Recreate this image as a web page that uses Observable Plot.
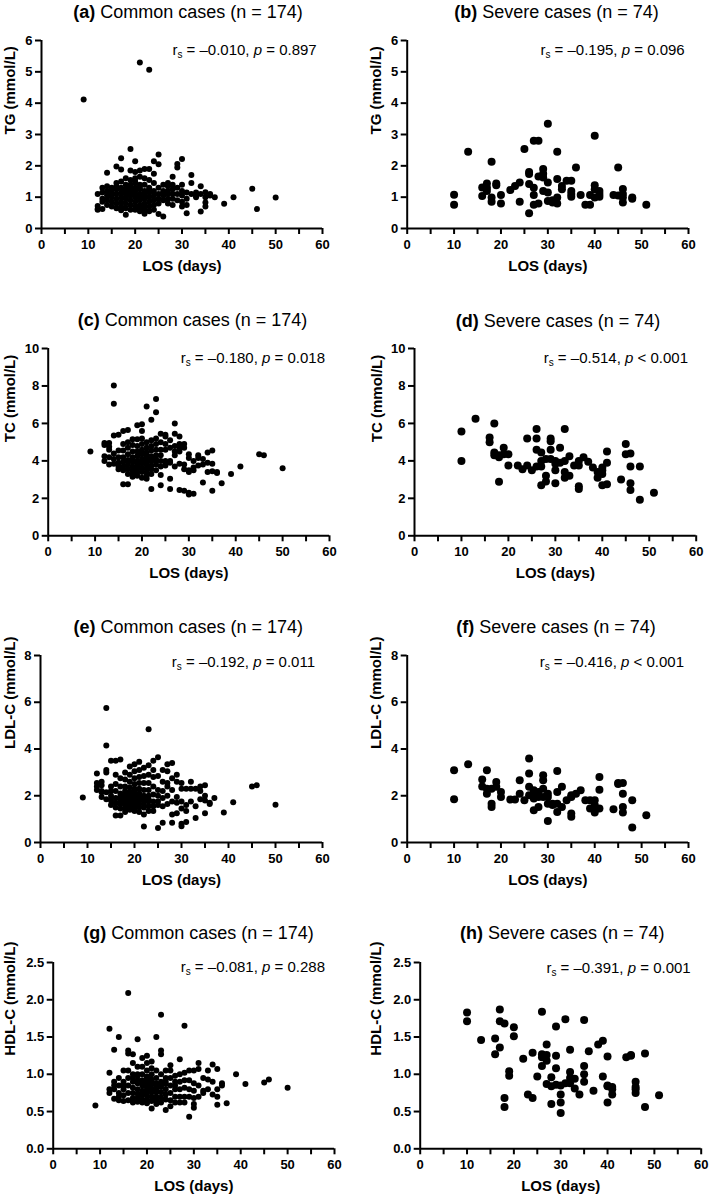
<!DOCTYPE html>
<html><head><meta charset="utf-8">
<script src="https://cdn.jsdelivr.net/npm/d3@7"></script>
<script src="https://cdn.jsdelivr.net/npm/@observablehq/plot@0.6"></script>
<style>
body{margin:0;background:#fff;}
#root{position:relative;width:709px;height:1202px;font-family:"Liberation Sans",Arial,Helvetica,sans-serif;color:#000;overflow:hidden;}
.title{position:absolute;font-size:18px;white-space:nowrap;transform:translate(-50%,-50%);line-height:1;}
.title b{font-weight:bold;}
.ann{position:absolute;font-size:15px;white-space:nowrap;transform:translate(-100%,-50%);line-height:1;}
.ann sub{font-size:10px;vertical-align:-3px;line-height:0;}
.panel{position:absolute;}
.panel svg{overflow:visible;}
.panel svg g[aria-label="x-axis tick label"], .panel svg g[aria-label="y-axis tick label"],
.panel svg g[aria-label="x-axis tick label"] text, .panel svg g[aria-label="y-axis tick label"] text{
  font-size:13px !important; font-weight:bold !important; fill:#000 !important;}
.panel svg g[aria-label="x-axis tick"], .panel svg g[aria-label="y-axis tick"]{
  stroke-width:2px !important; stroke:#000 !important;}
</style></head><body><div id="root"></div>
<script>
// ---------- data: [LOS (days), [values...]] ----------
const commonTG = [
 [9,[4.12]],
 [12,[1.10,0.72,0.62,0.60]],
 [13,[1.30,1.15,0.95,0.85,0.62]],
 [14,[1.78,1.35,1.20,1.05,0.90,0.75]],
 [15,[1.30,1.20,1.10,1.00,0.85,0.70]],
 [16,[1.98,1.45,1.35,1.25,1.10,0.95,0.80,0.65]],
 [17,[2.24,1.88,1.50,1.30,1.15,1.00,0.85,0.70,0.58]],
 [18,[1.60,1.40,1.25,1.20,1.10,1.00,0.95,0.80,0.65,0.44]],
 [19,[2.54,1.85,1.55,1.40,1.30,1.20,1.15,1.05,0.90,0.75,0.60]],
 [20,[2.15,1.80,1.60,1.50,1.45,1.30,1.20,1.10,1.00,0.85,0.70,0.60]],
 [21,[5.30,1.85,1.65,1.40,1.30,1.25,1.10,1.00,0.90,0.75,0.65,0.55]],
 [22,[1.90,1.60,1.40,1.20,1.10,1.05,0.95,0.80,0.70,0.60,0.47]],
 [23,[5.07,1.90,1.55,1.30,1.25,1.15,1.00,0.85,0.70,0.55]],
 [24,[2.15,1.75,1.45,1.20,1.05,0.90,0.75,0.60]],
 [25,[2.36,2.05,1.30,1.10,0.95,0.80,0.46]],
 [26,[1.40,1.20,1.15,1.05,0.90,0.38]],
 [27,[1.45,1.35,1.20,1.10,0.95,0.80]],
 [28,[1.65,1.40,1.25,1.10,0.95,0.75]],
 [29,[2.06,1.95,1.30,1.10,0.90]],
 [30,[2.22,1.40,1.20,1.05,0.85,0.70]],
 [31,[1.15,0.95,0.75,0.49]],
 [32,[1.71,1.45,1.10]],
 [33,[1.15,1.05,1.00]],
 [34,[1.35,1.10,0.54]],
 [35,[1.16,1.00,0.83,0.70]],
 [36,[1.10,1.05]],
 [37,[1.00]],[39,[0.79]],[41,[1.00]],[45,[1.27]],[46,[0.62]],[50,[0.99]]
];
const severeTG = [
 [10,[1.08,0.76]],[13,[2.45]],[16,[1.31,1.04]],[17,[1.44,1.30,1.20]],[18,[2.13,0.99,0.85]],
 [19,[1.44,1.38]],[20,[1.07,0.80]],[22,[1.23]],[23,[1.36]],[24,[1.47,0.85]],[25,[2.54]],
 [26,[1.80,1.74,1.42,0.49]],[27,[2.80,1.30,1.07,0.76]],[28,[2.80,1.66,0.80]],
 [29,[1.90,1.75,1.63,1.20]],[30,[3.34,1.47,1.15,0.88]],[31,[0.90,0.83]],
 [32,[2.45,1.58,0.99,0.80]],[33,[1.36,1.25]],[34,[1.52]],[35,[1.52,1.20,1.10,1.01]],
 [36,[1.95]],[37,[1.07]],[38,[0.76]],[39,[1.07,0.76]],[40,[2.96,1.38,1.25,0.99]],
 [41,[1.20,1.10,1.01]],[44,[1.07]],[45,[1.95,1.05]],[46,[1.26,1.10,0.99,0.83]],
 [48,[0.99,0.95]],[51,[0.76]]
];
const commonTC = [
 [9,[4.50]],
 [12,[4.95,4.85,4.25,4.00]],
 [13,[4.95,4.75,4.60,4.20,3.80]],
 [14,[8.02,7.05,5.35,4.40,4.10,3.85]],
 [15,[5.40,4.55,4.20,3.90,3.70,3.55]],
 [16,[5.60,4.90,4.55,4.20,3.95,3.70,3.50,2.75]],
 [17,[5.65,5.00,4.70,4.35,4.05,3.80,3.55,3.30,2.75]],
 [18,[5.15,4.85,4.50,4.20,4.00,3.95,3.70,3.50,3.30,3.15]],
 [19,[5.90,5.15,4.80,4.50,4.25,4.00,3.80,3.60,3.60,3.40,3.20]],
 [20,[5.95,5.60,5.20,4.90,4.60,4.45,4.35,4.10,3.90,3.65,3.40,3.10]],
 [21,[6.90,5.00,4.70,4.45,4.30,4.20,4.00,3.80,3.60,3.40,3.20,3.05]],
 [22,[6.20,5.10,4.80,4.55,4.25,4.10,4.00,3.75,3.55,3.30,2.50]],
 [23,[7.30,6.60,5.20,4.90,4.60,4.30,4.10,4.00,3.80,3.50]],
 [24,[5.45,5.00,4.60,4.30,4.00,3.70,3.25,2.70]],
 [25,[5.40,5.30,4.90,4.60,4.00,3.90,3.75]],
 [26,[5.10,4.70,4.00,3.90,3.05,2.50]],
 [27,[6.00,5.45,4.80,4.50,4.30,3.70]],
 [28,[5.30,4.90,4.70,4.50,3.85,2.45]],
 [29,[4.90,4.70,3.80,3.55,2.40]],
 [30,[4.35,4.15,3.50,3.40,2.30,2.20]],
 [31,[4.00,3.65,3.50,2.25]],
 [32,[4.30,4.15,3.75]],
 [33,[4.10,3.80,2.85]],
 [34,[4.45,3.90,3.40]],
 [35,[4.55,3.85,3.45,2.40]],
 [36,[3.40,3.35]],
 [37,[2.80]],[39,[3.30]],[41,[3.70]],[45,[4.35]],[46,[4.30]],[50,[3.60]]
];
const severeTC = [
 [10,[5.57,4.00]],[13,[6.25]],[16,[5.25,5.00]],[17,[6.00,4.45,4.30]],[18,[4.30,4.20,2.88]],
 [19,[4.70,4.35]],[20,[4.35,3.75]],[22,[3.75]],[23,[3.55]],[24,[5.20,3.75]],[25,[3.50]],
 [26,[5.70,5.20,4.60,3.70]],[27,[4.45,4.00,3.70,2.70]],[28,[4.10,3.20,2.90]],
 [29,[5.20,5.05,4.60,4.10]],[30,[4.00,3.85,3.50,2.80]],[31,[4.70,3.90]],
 [32,[5.70,4.00,3.40,3.10]],[33,[4.25,3.20]],[34,[3.75]],[35,[4.00,3.75,2.65,2.50]],
 [36,[4.20]],[37,[3.95]],[38,[3.65]],[39,[3.40,3.10]],[40,[3.65,3.50,3.30,2.70]],
 [41,[4.50,3.90,2.75]],[44,[3.00]],[45,[4.90,4.35]],[46,[4.40,3.70,2.80,2.45]],
 [48,[3.70,1.92]],[51,[2.30]]
];
const commonLDL = [
 [9,[1.92]],
 [12,[2.95,2.55,2.40,2.25]],
 [13,[2.60,2.45,2.20,2.15,1.95]],
 [14,[5.75,4.15,3.10,3.00,2.15,1.85]],
 [15,[3.50,2.40,2.20,2.00,1.80,1.60]],
 [16,[3.50,2.90,2.50,2.20,1.90,1.70,1.50,1.15]],
 [17,[3.55,2.75,2.40,2.10,1.95,1.80,1.65,1.45,1.15]],
 [18,[3.00,2.70,2.40,2.20,2.05,1.90,1.75,1.60,1.45,1.30]],
 [19,[3.25,2.90,2.60,2.35,2.15,2.10,2.00,1.85,1.70,1.55,1.40]],
 [20,[3.35,3.05,2.75,2.50,2.30,2.20,2.10,1.95,1.80,1.65,1.50,1.35]],
 [21,[3.45,3.10,2.80,2.55,2.30,2.10,2.00,1.95,1.80,1.65,1.50,1.30]],
 [22,[3.20,2.85,2.55,2.25,2.00,1.90,1.80,1.65,1.50,1.20,0.68]],
 [23,[4.85,3.30,2.90,2.55,2.25,2.00,1.85,1.75,1.55,1.35]],
 [24,[3.50,3.10,2.80,2.40,2.05,1.75,1.55,1.35]],
 [25,[3.65,2.85,2.25,2.00,1.75,1.60,0.62]],
 [26,[3.10,2.60,2.20,1.90,1.55,0.85]],
 [27,[3.35,3.05,2.55,2.40,2.00,1.65]],
 [28,[3.40,2.75,2.25,1.75,1.20,0.85]],
 [29,[2.90,2.60,1.95,1.70,1.25]],
 [30,[2.55,2.30,1.75,1.45,0.80,0.70]],
 [31,[2.30,1.60,1.35,0.88]],
 [32,[2.60,2.30,1.75]],
 [33,[2.30,1.55,1.05]],
 [34,[2.40,2.20,1.85]],
 [35,[2.45,2.00,1.80,1.25]],
 [36,[1.70,1.65]],
 [37,[1.90]],[39,[1.28]],[41,[1.72]],[45,[2.40]],[46,[2.45]],[50,[1.62]]
];
const severeLDL = [
 [10,[3.09,1.85]],[13,[3.35]],[16,[2.69,2.40]],[17,[3.09,2.30,2.09]],[18,[2.30,1.66,1.52]],
 [19,[2.59,2.38]],[20,[2.16,1.95]],[22,[1.84]],[23,[1.84]],[24,[2.66,2.09]],[25,[1.81]],
 [26,[3.59,2.95,2.38,2.02]],[27,[2.23,2.05,1.88,1.38]],[28,[2.16,1.95,1.52]],
 [29,[2.88,2.66,2.30,1.95]],[30,[2.09,1.95,1.66,0.92]],[31,[1.66,1.60]],
 [32,[3.06,2.16,1.66,1.31]],[33,[2.38,1.52]],[34,[1.81]],[35,[2.02,1.95,1.24,1.10]],
 [36,[2.09]],[37,[2.23]],[38,[1.81]],[39,[1.81,1.45]],[40,[1.81,1.60,1.45,1.28]],
 [41,[2.80,2.26,1.45]],[44,[1.42]],[45,[2.55,2.50]],[46,[2.55,2.09,1.52,1.28]],
 [48,[1.81,0.64]],[51,[1.17]]
];
const commonHDL = [
 [9,[0.58]],
 [12,[1.61,1.02,0.80,0.75]],
 [13,[1.33,0.90,0.85,0.80,0.67]],
 [14,[1.50,0.95,0.85,0.75,0.70,0.65]],
 [15,[1.05,0.90,0.85,0.80,0.72,0.64]],
 [16,[2.09,1.32,1.28,1.05,0.95,0.85,0.75,0.65]],
 [17,[1.27,1.15,1.00,0.95,0.90,0.82,0.75,0.68,0.62]],
 [18,[1.47,1.10,1.00,0.98,0.92,0.88,0.80,0.74,0.68,0.63]],
 [19,[1.22,1.10,1.00,0.92,0.88,0.85,0.78,0.75,0.72,0.66,0.62]],
 [20,[1.25,1.15,1.05,0.97,0.95,0.90,0.84,0.82,0.78,0.72,0.66,0.61]],
 [21,[1.17,1.08,1.00,0.93,0.90,0.87,0.81,0.78,0.76,0.70,0.64,0.54]],
 [22,[1.50,1.05,0.95,0.88,0.86,0.82,0.80,0.76,0.70,0.65,0.60]],
 [23,[1.80,1.32,1.27,1.00,0.90,0.86,0.83,0.76,0.69,0.62]],
 [24,[1.05,0.95,0.90,0.87,0.80,0.73,0.66,0.52]],
 [25,[1.12,1.05,0.95,0.85,0.75,0.65,0.57]],
 [26,[0.98,0.90,0.85,0.80,0.70,0.62]],
 [27,[1.20,1.00,0.90,0.80,0.70,0.62]],
 [28,[1.65,1.02,0.92,0.82,0.70,0.62]],
 [29,[1.05,0.92,0.80,0.70,0.43]],
 [30,[1.05,0.88,0.78,0.68,0.60,0.55]],
 [31,[1.15,1.07,0.85,0.70]],
 [32,[0.95,0.78,0.75]],
 [33,[1.05,0.93,0.80]],
 [34,[1.13,0.90,0.73]],
 [35,[1.07,0.80,0.70,0.59]],
 [36,[0.88,0.85]],
 [37,[0.61]],[39,[1.00]],[41,[0.87]],[45,[0.89]],[46,[0.93]],[50,[0.82]]
];
const severeHDL = [
 [10,[1.83,1.71]],[13,[1.46]],[16,[1.48,1.27]],[17,[1.87,1.71,1.36]],[18,[1.68,0.68,0.56]],
 [19,[1.04,0.98]],[20,[1.63,1.51]],[22,[1.21]],[23,[0.73]],[24,[1.29,0.68]],[25,[0.97]],
 [26,[1.84,1.27,1.23,1.11]],[27,[1.40,1.26,1.18,0.87]],[28,[0.96,0.84,0.60]],
 [29,[1.64,1.25,1.08,0.86]],[30,[0.85,0.73,0.62,0.48]],[31,[1.74,0.88]],
 [32,[1.33,1.03,0.95,0.88]],[33,[0.94,0.81]],[34,[0.73]],[35,[1.73,1.11,1.00,0.90]],
 [36,[1.31]],[37,[0.78]],[38,[1.40]],[39,[1.45,0.97]],[40,[1.24,0.85,0.84,0.62]],
 [41,[0.83,0.80,0.73]],[44,[1.23]],[45,[1.26,1.25]],[46,[0.90,0.83,0.80,0.75]],
 [48,[1.28,0.56]],[51,[0.72]]
];

const titles = [
 ["(a)","Common cases (n = 174)"],["(b)","Severe cases (n = 74)"],
 ["(c)","Common cases (n = 174)"],["(d)","Severe cases (n = 74)"],
 ["(e)","Common cases (n = 174)"],["(f)","Severe cases (n = 74)"],
 ["(g)","Common cases (n = 174)"],["(h)","Severe cases (n = 74)"]
];
const stats = [
 ["–0.010","=","0.897"],["–0.195","=","0.096"],
 ["–0.180","=","0.018"],["–0.514","<","0.001"],
 ["–0.192","=","0.011"],["–0.416","<","0.001"],
 ["–0.081","=","0.288"],["–0.391","=","0.001"]
];
const yLabels = ["TG (mmol/L)","TC (mmol/L)","LDL-C (mmol/L)","HDL-C (mmol/L)"];
const yTops = [6,10,8,2.5];
const ySteps = [1,2,2,0.5];
const xTicks = d3.range(0,61,5);

// ---------- layout (page px) ----------
const layout = [
 {left:0,  w:354, fx0:41,    fx1:322,   fy0:40,    fy1:228,  ylx:-31,   tx:188,   ty:11.7,  ax:316.7, ay:49},
 {left:354,w:355, fx0:406.7, fx1:688,   fy0:40,    fy1:228,  ylx:-31,   tx:556.5, ty:11.7,  ax:684.7, ay:49},
 {left:0,  w:354, fx0:47.7,  fx1:329,   fy0:347.7, fy1:535,  ylx:-37.7, tx:192.5, ty:320,   ax:325,   ay:356.7},
 {left:354,w:355, fx0:414,   fx1:695.7, fy0:347.7, fy1:535,  ylx:-37,   tx:558,   ty:320.7, ax:688,   ay:356.7},
 {left:0,  w:354, fx0:40,    fx1:322,   fy0:655,   fy1:842,  ylx:-30.7, tx:188.3, ty:626.7, ax:315,   ay:661},
 {left:354,w:355, fx0:406.7, fx1:688,   fy0:655,   fy1:842,  ylx:-31,   tx:556,   ty:626.7, ax:684,   ay:661},
 {left:0,  w:354, fx0:52.7,  fx1:334,   fy0:961.7, fy1:1148, ylx:-42.7, tx:198.5, ty:933.3, ax:325,   ay:966},
 {left:354,w:355, fx0:419.7, fx1:700.7, fy0:961.7, fy1:1148, ylx:-44,   tx:562.3, ty:933.3, ax:690.7, ay:966.7}
];

const flat = g => g.flatMap(([los, vs]) => vs.map(v => ({los, v})));
const series = [commonTG, severeTG, commonTC, severeTC, commonLDL, severeLDL, commonHDL, severeHDL];

const root = document.getElementById("root");
const MT = 10, MB = 54;
const FONT = '"Liberation Sans", Arial, Helvetica, sans-serif';

series.forEach((grp, i) => {
  const L = layout[i];
  const row = Math.floor(i / 2);
  const severe = i % 2 === 1;
  const ymax = yTops[row], ystep = ySteps[row];
  const fmt = row === 3 ? d3.format(".1f") : d3.format("d");
  const height = (L.fy1 - L.fy0) + MT + MB;
  const svg = Plot.plot({
    width: L.w, height,
    marginLeft: L.fx0 - L.left,
    marginRight: L.w - (L.fx1 - L.left),
    marginTop: MT, marginBottom: MB,
    x: {domain: [0, 60]},
    y: {domain: [0, ymax]},
    style: {fontFamily: FONT, fontSize: "13px", fontWeight: "bold", color: "#000", background: "transparent", overflow: "visible"},
    marks: [
      Plot.axisX({ticks: xTicks, tickSize: 6, tickPadding: 5, strokeWidth: 2, stroke: "#000",
        fontSize: 13, fontWeight: "bold", fill: "#000",
        tickFormat: d => d % 10 === 0 ? String(d) : "", label: null}),
      Plot.axisY({ticks: d3.range(0, ymax + 1e-9, ystep), tickSize: 6, tickPadding: 3, strokeWidth: 2, stroke: "#000",
        fontSize: 13, fontWeight: "bold", fill: "#000",
        tickFormat: fmt, label: null}),
      Plot.ruleY([0], {stroke: "#000", strokeWidth: 2}),
      Plot.ruleX([0], {stroke: "#000", strokeWidth: 2}),
      Plot.dot(flat(grp), {x: "los", y: "v", r: severe ? 4 : 3, fill: "#000"}),
      Plot.text(["LOS (days)"], {frameAnchor: "bottom", dy: 42, fontSize: 15, fontWeight: "bold", fill: "#000"}),
      Plot.text([yLabels[row]], {frameAnchor: "left", dx: L.ylx, rotate: -90, fontSize: 15, fontWeight: "bold", fill: "#000"})
    ]
  });
  const div = document.createElement("div");
  div.className = "panel";
  div.style.left = L.left + "px";
  div.style.top = (L.fy0 - MT) + "px";
  div.style.width = L.w + "px";
  div.appendChild(svg);
  root.appendChild(div);

  const t = document.createElement("div");
  t.className = "title";
  t.style.left = L.tx + "px";
  t.style.top = L.ty + "px";
  t.innerHTML = `<b>${titles[i][0]}</b> ${titles[i][1]}`;
  root.appendChild(t);

  const a = document.createElement("div");
  a.className = "ann";
  a.style.left = L.ax + "px";
  a.style.top = L.ay + "px";
  a.innerHTML = `r<sub>s</sub> = ${stats[i][0]}, <i>p</i> ${stats[i][1]} ${stats[i][2]}`;
  root.appendChild(a);
});
</script></body></html>
